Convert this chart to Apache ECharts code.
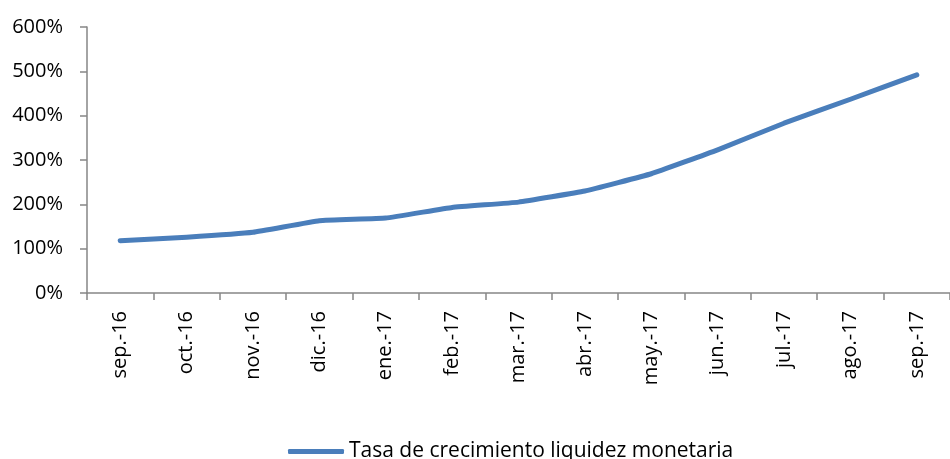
<!DOCTYPE html>
<html>
<head>
  <meta charset="UTF-8">
  <title>Tasa de crecimiento liquidez monetaria</title>
  <script src="https://cdn.jsdelivr.net/npm/echarts@6/dist/echarts.min.js"></script>
  <style>
    html, body { margin: 0; padding: 0; background: #fff; }
    #main { width: 950px; height: 459px; }
  </style>
</head>
<body>
<div id="main"></div>
<script>
  var meses = ['sep.-16', 'oct.-16', 'nov.-16', 'dic.-16', 'ene.-17', 'feb.-17', 'mar.-17',
    'abr.-17', 'may.-17', 'jun.-17', 'jul.-17', 'ago.-17', 'sep.-17'];
  // tasa en %
  var tasa = [118, 126, 137, 163, 169, 193, 205, 230, 269, 323, 383, 437, 492];
  var nombreSerie = 'Tasa de crecimiento liquidez monetaria';

  var fuente = '"Open Sans", "Liberation Sans", sans-serif';
  var gris = '#868686';

  var option = {
    backgroundColor: '#fff',
    animation: false,
    grid: { left: 87, top: 27, width: 873, height: 266, containLabel: false },
    legend: {
      data: [{ name: nombreSerie, icon: 'roundRect' }],
      left: 283,
      top: 436,
      itemWidth: 56,
      itemHeight: 5,
      itemGap: 6,
      textStyle: { color: '#000', fontSize: 21, fontFamily: fuente }
    },
    xAxis: {
      type: 'category',
      data: meses,
      boundaryGap: true,
      axisLine: { lineStyle: { color: gris, width: 1.5 } },
      axisTick: { show: true, length: 7, lineStyle: { color: gris, width: 1.5 } },
      axisLabel: { rotate: 90, margin: 18, color: '#000', fontSize: 20, fontFamily: fuente, interval: 0 }
    },
    yAxis: {
      type: 'value',
      min: 0,
      max: 600,
      interval: 100,
      axisLine: { show: true, lineStyle: { color: gris, width: 1.5 } },
      axisTick: { show: true, length: 7, lineStyle: { color: gris, width: 1.5 } },
      splitLine: { show: false },
      axisLabel: {
        margin: 24, color: '#000', fontSize: 20, fontFamily: fuente,
        formatter: function (v) { return v + '%'; }
      }
    },
    series: [{
      name: nombreSerie,
      type: 'line',
      data: tasa,
      symbol: 'none',
      smooth: 0.1,
      lineStyle: { color: '#4A7EBB', width: 5, cap: 'round', join: 'round' },
      itemStyle: { color: '#4A7EBB' }
    }]
  };
  echarts.init(document.getElementById('main')).setOption(option);
</script>
</body>
</html>
